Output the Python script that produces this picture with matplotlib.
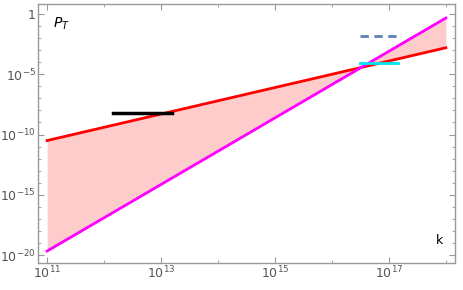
import matplotlib
matplotlib.use("Agg")
import matplotlib.pyplot as plt
from matplotlib.ticker import FixedLocator, NullFormatter

plt.rcParams["mathtext.default"] = "regular"

# data (log-log straight lines)
k_lines = [1e11, 1e18]
p_red = [10**-10.5, 10**-2.8]
p_mag = [10**-19.67, 10**-0.33]

k_black = [10**12.16, 10**13.2]
p_black = [10**-8.2, 10**-8.2]

k_blue = [10**16.49, 10**17.16]
p_blue = [10**-1.82, 10**-1.82]

k_cyan = [10**16.49, 10**17.16]
p_cyan = [10**-4.06, 10**-4.06]

xticks_major = [1e11, 1e13, 1e15, 1e17]
xtick_labels = [r"$10^{11}$", r"$10^{13}$", r"$10^{15}$", r"$10^{17}$"]
yticks_major = [1, 1e-5, 1e-10, 1e-15, 1e-20]
ytick_labels = ["1", r"$10^{-5}$", r"$10^{-10}$", r"$10^{-15}$", r"$10^{-20}$"]

fig = plt.figure(figsize=(4.63, 2.90), dpi=100)
ax = fig.add_axes([38/463, 1-263/290, (455-38)/463, (263-4)/290])
ax.set_xscale("log")
ax.set_yscale("log")

ax.fill_between(k_lines, p_red, p_mag, color="#FFCCCC", lw=0, zorder=1)
ax.plot(k_lines, p_red, color="#FF0000", lw=2, zorder=3)
ax.plot(k_lines, p_mag, color="#FF00FF", lw=2, zorder=3)
ax.plot(k_black, p_black, color="black", lw=2.5, zorder=4)
ax.plot(k_blue, p_blue, color="#5E81B5", lw=2, ls=(0, (3, 2)), zorder=4)
ax.plot(k_cyan, p_cyan, color="#00E5F0", lw=2, zorder=4)

ax.set_xlim(10**10.84, 10**18.16)
ax.set_ylim(10**-20.66, 10**0.83)

ax.xaxis.set_major_locator(FixedLocator(xticks_major))
ax.set_xticklabels(xtick_labels)
ax.xaxis.set_minor_locator(FixedLocator([10.0**e for e in range(11, 19)]))
ax.xaxis.set_minor_formatter(NullFormatter())
ax.yaxis.set_major_locator(FixedLocator(yticks_major))
ax.set_yticklabels(ytick_labels)
ax.yaxis.set_minor_locator(FixedLocator([10.0**e for e in range(-20, 1)]))
ax.yaxis.set_minor_formatter(NullFormatter())

for s in ax.spines.values():
    s.set_color("#999999")
    s.set_linewidth(1)
ax.tick_params(which="both", direction="in", top=True, right=True, colors="#999999",
               labelcolor="#555555", labelsize=9)
ax.tick_params(which="major", length=4, width=0.8, pad=1.5)
ax.tick_params(which="minor", length=2.5, width=0.6)

ax.text(0.035, 0.91, r"$\mathit{P}_{\mathit{T}}$", transform=ax.transAxes, fontsize=10,
        color="black")
ax.text(0.955, 0.075, "k", transform=ax.transAxes, fontsize=9, color="black")

fig.savefig("out.png", dpi=100)
